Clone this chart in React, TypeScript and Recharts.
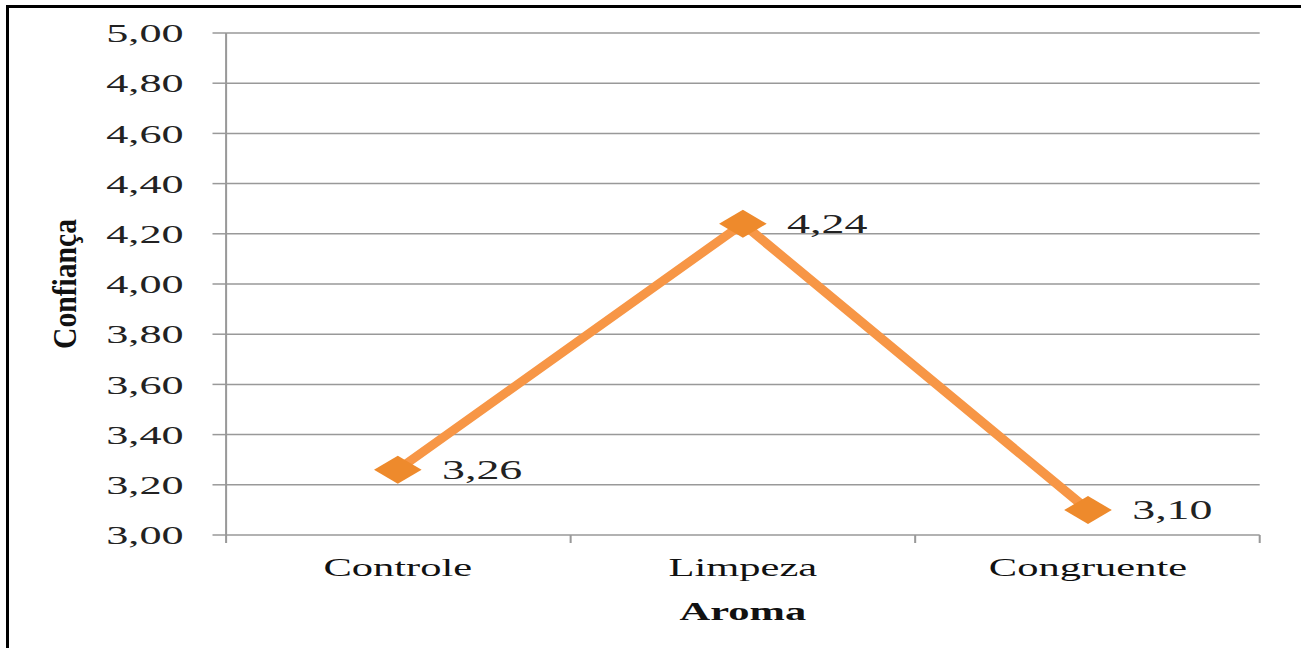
import { LineChart, Line, XAxis, YAxis, CartesianGrid, LabelList } from 'recharts';

// values
const categories = ['Controle', 'Limpeza', 'Congruente'];
const confianca = [3.26, 4.24, 3.1];
const yTicks = [3, 3.2, 3.4, 3.6, 3.8, 4, 4.2, 4.4, 4.6, 4.8, 5];
// category boundaries, in category-index units
const edgeTicks = [-0.5, 0.5, 1.5, 2.5];

const data = categories.map((name, i) => ({ name, idx: i, value: confianca[i] }));

// the source image is stretched horizontally, so the chart is drawn narrow and scaled
const STRETCH = 1.7;
const W = Math.round(1301 / STRETCH);
const H = 648;
const GRID = '#999';
const FONT = "'Liberation Serif', 'Times New Roman', serif";

const fmt = (v: number) => Number(v).toFixed(2).replace('.', ',');

function Diamond(props: any) {
  const { cx, cy } = props;
  if (cx == null || cy == null) return null;
  const r = 14;
  return (
    <polygon
      points={`${cx},${cy - r} ${cx + r},${cy} ${cx},${cy + r} ${cx - r},${cy}`}
      fill="#EE8A2C"
    />
  );
}

const yLabel = (props: any) => {
  const vb = props.viewBox;
  if (!vb) return null;
  const cx = vb.x + 38;
  const cy = vb.y + vb.height / 2;
  return (
    <text
      x={cx}
      y={cy}
      textAnchor="middle"
      dominantBaseline="central"
      transform={`rotate(-90 ${cx} ${cy})`}
      fontSize={20}
      fontWeight="bold"
      fill="#111"
      textLength={130}
      lengthAdjust="spacingAndGlyphs"
      style={{ fontFamily: FONT }}
    >
      Confiança
    </text>
  );
};

export default function App() {
  return (
    <div style={{ position: 'absolute', left: 0, top: 0, width: 1301, height: 648, overflow: 'hidden', background: '#fff' }}>
      <div
        style={{
          position: 'absolute', left: 6, top: 5, width: 1400, height: 800,
          borderTop: '3px solid #000', borderLeft: '3px solid #000',
        }}
      />
      <div style={{ position: 'absolute', left: 0, top: 0, transform: `scaleX(${STRETCH})`, transformOrigin: '0 0' }}>
        <LineChart
          width={W}
          height={H}
          data={data}
          margin={{ top: 33, right: 24, bottom: 13, left: 0 }}
          style={{ fontFamily: FONT }}
        >
          <CartesianGrid xAxisId="b" vertical={false} stroke={GRID} strokeWidth={1.5} />
          {/* tick marks between the categories */}
          <XAxis
            xAxisId="a"
            dataKey="idx"
            type="number"
            domain={[-0.5, 2.5]}
            allowDataOverflow
            ticks={edgeTicks}
            interval={0}
            height={1}
            axisLine={false}
            tickSize={8}
            tickLine={{ stroke: GRID, strokeWidth: 1.2 }}
            tickFormatter={() => ''}
          />
          <XAxis
            xAxisId="b"
            dataKey="name"
            type="category"
            height={99}
            padding={{ left: 101, right: 101 }}
            axisLine={false}
            tickLine={false}
            tickSize={0}
            tickMargin={22}
            tick={{ fill: '#111', fontSize: 25 }}
            interval={0}
            label={{ value: 'Aroma', position: 'insideBottom', offset: 15, fontSize: 25, fontWeight: 'bold', fill: '#111' }}
          />
          <YAxis
            domain={[3, 5]}
            ticks={yTicks}
            interval={0}
            width={133}
            tickFormatter={fmt}
            tickSize={8}
            tickMargin={17}
            axisLine={{ stroke: GRID, strokeWidth: 1.2 }}
            tickLine={{ stroke: GRID, strokeWidth: 1.5 }}
            tick={{ fill: '#222', fontSize: 26 }}
            label={yLabel}
          />
          <Line
            xAxisId="b"
            type="linear"
            dataKey="value"
            stroke="#F79646"
            strokeWidth={7}
            dot={<Diamond />}
            activeDot={false}
            isAnimationActive={false}
          >
            <LabelList dataKey="value" position="right" offset={26} formatter={fmt} fill="#222" fontSize={27} />
          </Line>
        </LineChart>
      </div>
    </div>
  );
}
